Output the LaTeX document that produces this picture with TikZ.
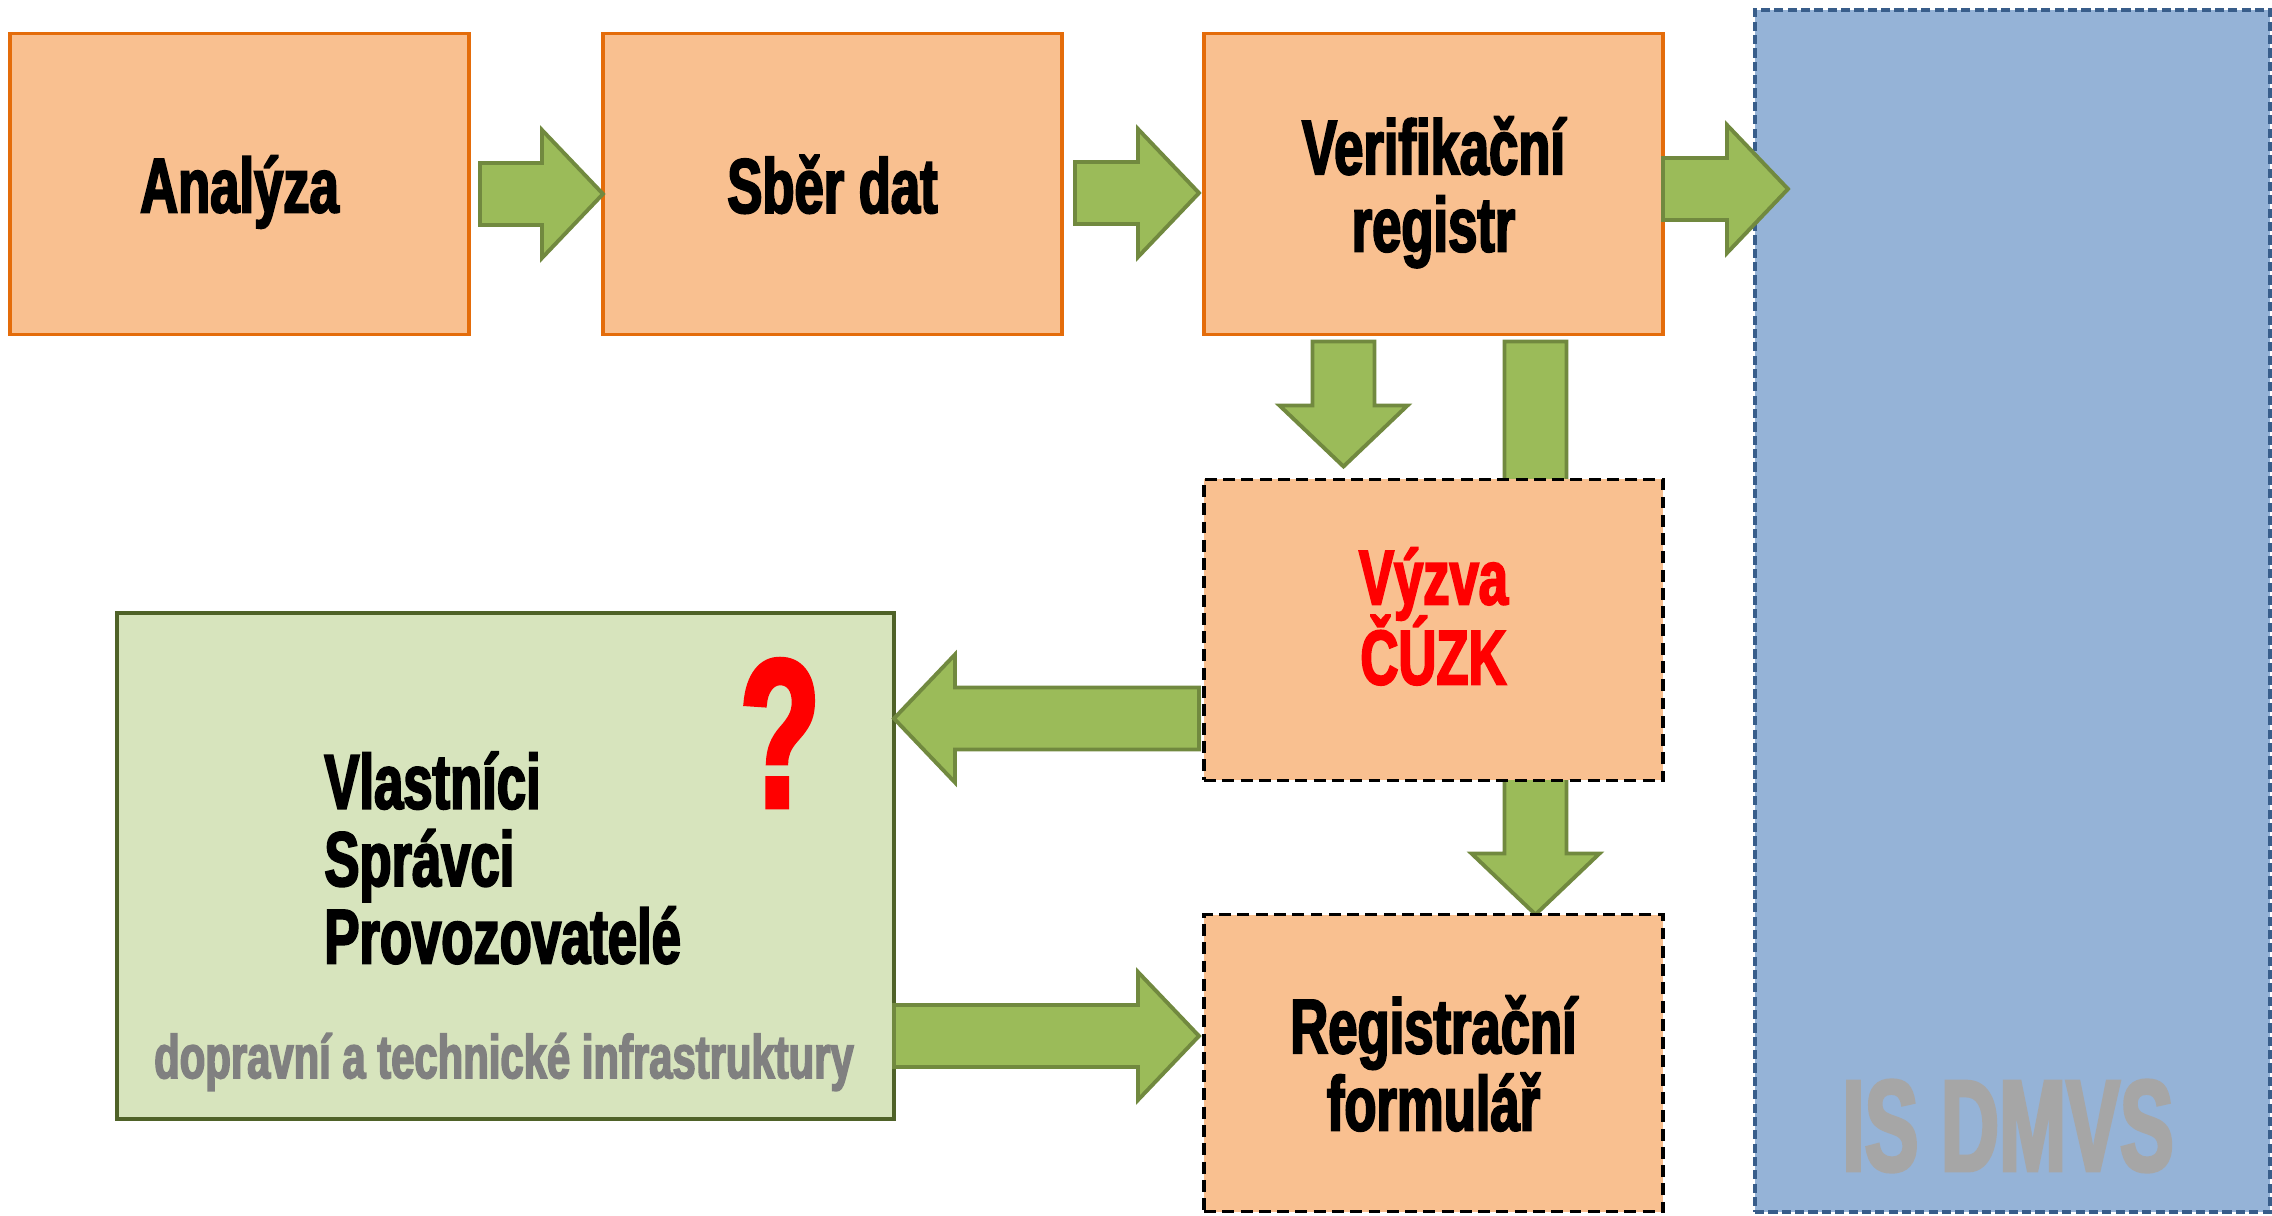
\documentclass[tikz,border=0pt]{standalone}
\usepackage{fontspec}
\usetikzlibrary{positioning,calc,backgrounds}

\newfontfamily\antonfont[FakeStretch=0.68,BoldFeatures={FakeBold=2.5}]{Liberation Sans}
\newfontfamily\isfont[FakeStretch=0.62,BoldFeatures={FakeBold=2.5}]{Liberation Sans}
\newcommand{\boxfont}{\antonfont\bfseries\fontsize{22}{22}\selectfont}

\definecolor{boxfill}{HTML}{F9C090}
\definecolor{boxline}{HTML}{E46C0A}
\definecolor{arrfill}{HTML}{9BBB59}
\definecolor{arrline}{HTML}{71893F}
\definecolor{ownfill}{HTML}{D7E4BD}
\definecolor{ownline}{HTML}{4F6228}
\definecolor{isfill}{HTML}{95B3D7}
\definecolor{isline}{HTML}{385D8A}
\definecolor{istext}{HTML}{A6A6A6}
\definecolor{infratext}{HTML}{808080}

% fat green arrow from #1 to #2
\newcommand{\blockarrow}[2]{%
  \filldraw[fatarrow] ($(#1)!0.31cm!90:(#2)$)
    -- ($($(#2)!0.61cm!(#1)$)!0.31cm!90:(#2)$)
    -- ($($(#2)!0.61cm!(#1)$)!0.64cm!90:(#2)$)
    -- (#2)
    -- ($($(#2)!0.61cm!(#1)$)!0.64cm!-90:(#2)$)
    -- ($($(#2)!0.61cm!(#1)$)!0.31cm!-90:(#2)$)
    -- ($(#1)!0.31cm!-90:(#2)$) -- cycle;}

\tikzset{
  procbox/.style={draw=boxline, fill=boxfill, line width=1.1pt, minimum width=4.59cm,
    minimum height=3.01cm, inner sep=0pt, outer sep=0pt, align=center, font=\boxfont,
    text depth=0pt},
  callbox/.style={procbox, draw=black, dash pattern=on 3.4pt off 1.8pt},
  fatarrow/.style={fill=arrfill, draw=arrline, line width=1.1pt, line join=miter},
}

\begin{document}
\begin{tikzpicture}
  \useasboundingbox (0,0) rectangle (22.72,-12.16);

  % IS DMVS
  \node[draw=isline, fill=isfill, line width=1pt, dash pattern=on 2.6pt off 1.2pt,
    minimum width=5.15cm, minimum height=12.02cm, outer sep=0pt] (isd) at (20.125,-6.11) {};
  \node[font=\isfont\bfseries\fontsize{37}{37}\selectfont, text=istext] (istitle) at (20.08,-11.26) {IS DMVS};

  % process
  \node[procbox] (ana) at (2.395,-1.84) {Analýza};
  \node[procbox, right=1.34cm of ana] (sber) {Sběr dat};
  \node[procbox, right=1.42cm of sber] (verif) {Verifikační\\registr};
  \node[callbox, text=red, text depth=0.28cm, below=1.45cm of verif] (vyzva) {Výzva\\[-2.5pt]ČÚZK};
  \node[callbox, below=1.34cm of vyzva, minimum height=2.97cm] (reg) {Registrační\\formulář};

  % owners
  \node[draw=ownline, fill=ownfill, line width=1.4pt, minimum width=7.77cm,
    minimum height=5.06cm, outer sep=0pt] (own) at (5.055,-8.66) {};
  \node[font=\boxfont, align=left, anchor=west] (roles) at (3.12,-8.58) {Vlastníci\\Správci\\Provozovatelé};
  \node[font=\isfont\bfseries\fontsize{60}{60}\selectfont, text=red] (quest) at (7.80,-7.33) {?};
  \node[font=\antonfont\bfseries\fontsize{17.5}{17.5}\selectfont, text=infratext] (infra) at (5.04,-10.62) {dopravní a technické infrastruktury};

  % arrow ends
  \coordinate (a1s) at ($(ana.east)+(0.11,-0.1)$);
  \coordinate (a1e) at ($(sber.west)+(0,-0.1)$);
  \coordinate (a2s) at ($(sber.east)+(0.13,-0.09)$);
  \coordinate (a2e) at ($(verif.west)+(-0.05,-0.09)$);
  \coordinate (a3s) at ($(verif.east)+(0,-0.05)$);
  \coordinate (a3e) at ($(verif.east -| isd.west)+(0.33,-0.05)$);
  \coordinate (a4s) at ($(verif.south)+(-0.9,-0.07)$);
  \coordinate (a4e) at ($(vyzva.north)+(-0.9,0.13)$);
  \coordinate (a5s) at ($(verif.south)+(1.02,-0.07)$);
  \coordinate (a5e) at ($(reg.north)+(1.02,0)$);
  \coordinate (a6s) at ($(vyzva.west)+(-0.05,-0.885)$);
  \coordinate (a6e) at (own.east |- a6s);
  \coordinate (a7s) at ($(own.east)+(0,-1.7)$);
  \coordinate (a7e) at ($(reg.west |- a7s)+(-0.05,0)$);

  \blockarrow{a1s}{a1e}
  \blockarrow{a2s}{a2e}
  \blockarrow{a3s}{a3e}
  \blockarrow{a4s}{a4e}
  \begin{scope}[on background layer]
    \blockarrow{a5s}{a5e}
  \end{scope}
  \blockarrow{a6s}{a6e}
  \blockarrow{a7s}{a7e}
\end{tikzpicture}
\end{document}
